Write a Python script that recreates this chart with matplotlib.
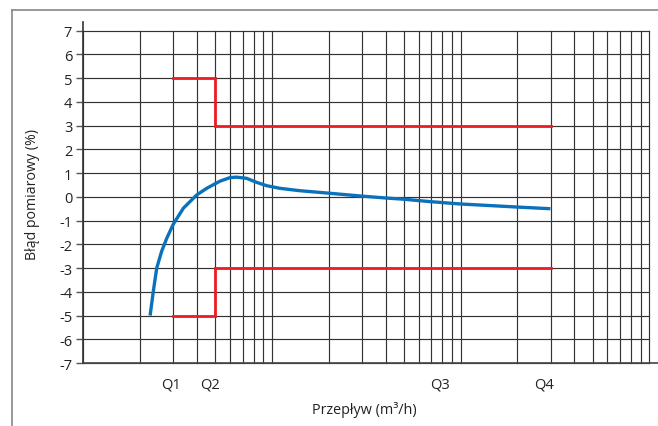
import matplotlib
matplotlib.use("Agg")
import matplotlib.pyplot as plt
from matplotlib.ticker import LogLocator, NullFormatter
from matplotlib.lines import Line2D

plt.rcParams['font.family'] = ['Open Sans', 'DejaVu Sans']

# ---- data ----
flow_curve = [2.26, 2.35, 2.45, 2.6, 2.77, 3.0, 3.39, 3.99, 4.51, 5.3, 5.99, 6.49,
              7.34, 8.3, 9.37, 11.0, 14.0, 20.3, 30.0, 40.4, 50.0, 68.6, 99.6, 200.0, 299.0]
error_curve = [-5.0, -3.98, -3.0, -2.3, -1.74, -1.15, -0.48, 0.08, 0.36, 0.66, 0.81, 0.83,
               0.78, 0.61, 0.47, 0.36, 0.26, 0.15, 0.03, -0.05, -0.1, -0.2, -0.3, -0.43, -0.5]

limit_flow = [3, 5, 5, 300]
upper_limit = [5, 5, 3, 3]
lower_limit = [-5, -5, -3, -3]

q_labels = ['Q1', 'Q2', 'Q3', 'Q4']
q_label_pos = [2.9, 4.7, 78, 275]

y_ticks = list(range(-7, 8))
x_range = [1, 1000]

xlabel = 'Przepływ (m³/h)'
ylabel = 'Błąd pomiarowy (%)'

# ---- figure ----
fig = plt.figure(figsize=(6.58, 4.27), dpi=100)
ax = fig.add_axes([0.1266, 0.1475, 0.8602, 0.7783])

ax.set_xscale('log')
ax.set_xlim(*x_range)
ax.set_ylim(-7, 7)

ax.xaxis.set_major_locator(LogLocator(base=10, numticks=10))
ax.xaxis.set_minor_locator(LogLocator(base=10, subs=range(2, 10), numticks=20))
ax.xaxis.set_major_formatter(NullFormatter())
ax.xaxis.set_minor_formatter(NullFormatter())
ax.tick_params(axis='x', which='both', length=0)

ax.set_yticks(y_ticks)
ax.set_yticklabels([str(v) for v in y_ticks], fontsize=10.5, color='#222222')
ax.tick_params(axis='y', length=5, width=1, color='#555555', pad=3)

grid_kw = dict(color='#333333', linewidth=0.85)
ax.grid(True, which='major', axis='both', **grid_kw)
ax.grid(True, which='minor', axis='x', **grid_kw)
for gl in ax.get_xgridlines() + ax.get_ygridlines():
    gl.set_clip_on(False)
for t in ax.xaxis.get_minor_ticks():
    t.gridline.set_clip_on(False)
ax.set_axisbelow(True)

for s in ['top', 'right', 'bottom', 'left']:
    ax.spines[s].set_visible(False)

# extended axis lines
ax.add_line(Line2D([0, 0], [0, 1.026], transform=ax.transAxes, color='#333333',
                   linewidth=1.2, clip_on=False))
ax.add_line(Line2D([0, 1.016], [0, 0], transform=ax.transAxes, color='#444444',
                   linewidth=1.2, clip_on=False))

# limits
ax.plot(limit_flow, upper_limit, color='#ED1C24', linewidth=2.0, solid_joinstyle='miter', zorder=3)
ax.plot(limit_flow, lower_limit, color='#ED1C24', linewidth=2.0, solid_joinstyle='miter', zorder=3)

# error curve
ax.plot(flow_curve, error_curve, color='#0A72BA', linewidth=2.4, solid_capstyle='butt', zorder=4)

# Q labels
for lab, pos in zip(q_labels, q_label_pos):
    ax.text(pos, -7.55, lab, ha='center', va='top', fontsize=10.5, color='#222222')

fig.text(0.553, 1 - 410 / 427, xlabel, ha='center', va='center',
         fontsize=10.4, color='#222222')
fig.text(0.050, 1 - 194 / 427, ylabel, rotation=90, ha='center', va='center',
         fontsize=10.2, color='#222222')

# outer frame
fig.add_artist(Line2D([0.0178, 1.0], [0.975, 0.975], transform=fig.transFigure,
                      color='#888888', linewidth=1.2))
fig.add_artist(Line2D([0.0178, 0.0178], [0.0, 0.975], transform=fig.transFigure,
                      color='#888888', linewidth=1.2))

fig.savefig('out.png', dpi=100)
